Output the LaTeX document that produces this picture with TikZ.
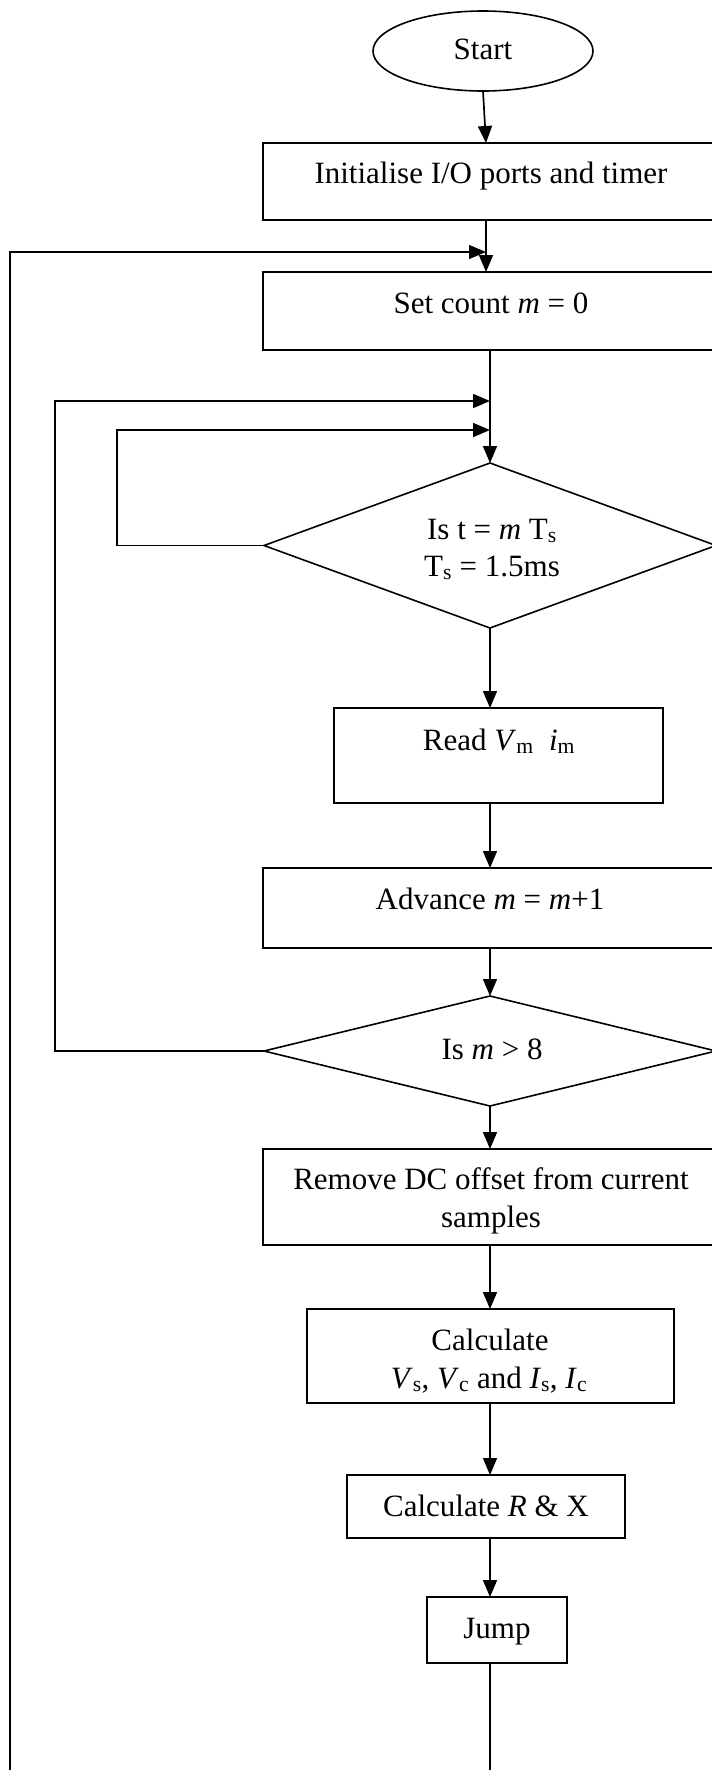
\documentclass[tikz,border=0pt]{standalone}
\usepackage{fontspec}
\setmainfont{Liberation Serif}
\usetikzlibrary{arrows.meta,shapes.geometric,calc}
\tikzset{
  flowbox/.style={draw, line width=1.6pt, inner sep=0pt, outer sep=0pt},
  decision/.style={draw, diamond, line width=1.6pt, inner sep=0pt, outer sep=0pt},
  lbl/.style={anchor=base, inner sep=0pt, font=\fontsize{31}{37}\selectfont},
  flow/.style={line width=1.7pt, -{Triangle[length=17pt,width=14pt]}},
  loopline/.style={line width=1.3pt, -{Triangle[length=17pt,width=14pt]}}
}
\begin{document}
\begin{tikzpicture}[x=1pt,y=1pt]
\useasboundingbox (0,0) rectangle (712,-1770);
\clip (0,0) rectangle (712,-1770);
\coordinate (ax0) at (486,0);
\coordinate (ax) at (490,0);
\coordinate (o1) at (10,0);
\coordinate (o2) at (55,0);
\coordinate (o3) at (117,0);
\coordinate (bot) at (0,-1800);
\coordinate (j0) at (486,-252);
\coordinate (j1) at (490,-401);
\coordinate (j2) at (490,-430);

% nodes
\node[draw, ellipse, line width=1.6pt, minimum width=220, minimum height=80, inner sep=0pt, outer sep=0pt] (start) at (483,-51) {};
\node[lbl] (startT) at (483,-59) {Start};

\node[flowbox, minimum width=454, minimum height=77] (init) at (490,-181.5) {};
\node[lbl] (initT) at (491,-183) {Initialise I/O ports and timer};

\node[flowbox, minimum width=454, minimum height=78] (setc) at (490,-311) {};
\node[lbl] (setcT) at (491,-313) {Set count \textit{m} = 0};

\node[decision, minimum width=452, minimum height=165] (d1) at (490,-545.5) {};
\node[lbl] (d1a) at (492,-539) {Is t = \textit{m} T\textsubscript{s}};
\node[lbl] (d1b) at (492,-576) {T\textsubscript{s} = 1.5ms};

\node[flowbox, minimum width=329, minimum height=95] (read) at (498.5,-755.5) {};
\node[lbl] (readT) at (499,-750) {Read \textit{V}\textsubscript{m}\ \ \textit{i}\textsubscript{m}};

\node[flowbox, minimum width=454, minimum height=80] (adv) at (490,-908) {};
\node[lbl] (advT) at (490,-909) {Advance \textit{m} = \textit{m}+1};

\node[decision, minimum width=452, minimum height=110] (d2) at (490,-1051) {};
\node[lbl] (d2T) at (492,-1059) {Is \textit{m} {\textgreater} 8};

\node[flowbox, minimum width=454, minimum height=96] (rem) at (490,-1197) {};
\node[lbl] (remA) at (491,-1189) {Remove DC offset from current};
\node[lbl] (remB) at (491,-1227) {samples};

\node[flowbox, minimum width=367, minimum height=94] (calc) at (490.5,-1356) {};
\node[lbl] (calcA) at (490,-1350) {Calculate};
\node[lbl] (calcB) at (489,-1388) {\textit{V}\textsubscript{s}, \textit{V}\textsubscript{c} and \textit{I}\textsubscript{s}, \textit{I}\textsubscript{c}};

\node[flowbox, minimum width=278, minimum height=63] (rx) at (486,-1506.5) {};
\node[lbl] (rxT) at (486,-1516) {Calculate \textit{R} \& X};

\node[flowbox, minimum width=140, minimum height=66] (jump) at (497,-1630) {};
\node[lbl] (jumpT) at (497,-1638) {Jump};

% connectors
\draw[flow] (start.south) -- (init.north -| ax0);
\draw[flow] (init.south -| ax0) -- (setc.north -| ax0);
\draw[flow] (setc.south -| ax) -- (d1.north);
\draw[flow] (d1.south) -- (read.north -| ax);
\draw[flow] (read.south -| ax) -- (adv.north -| ax);
\draw[flow] (adv.south -| ax) -- (d2.north);
\draw[flow] (d2.south) -- (rem.north -| ax);
\draw[flow] (rem.south -| ax) -- (calc.north -| ax);
\draw[flow] (calc.south -| ax) -- (rx.north -| ax);
\draw[flow] (rx.south -| ax) -- (jump.north -| ax);

\draw[flow] (d1.west) -- (d1.west -| o3) -- (o3 |- j2) -- (j2);
\draw[flow] (d2.west) -- (d2.west -| o2) -- (o2 |- j1) -- (j1);
\draw[loopline] (jump.south -| ax) -- (ax |- bot) -- (o1 |- bot) -- (o1 |- j0) -- (j0);
\end{tikzpicture}
\end{document}
